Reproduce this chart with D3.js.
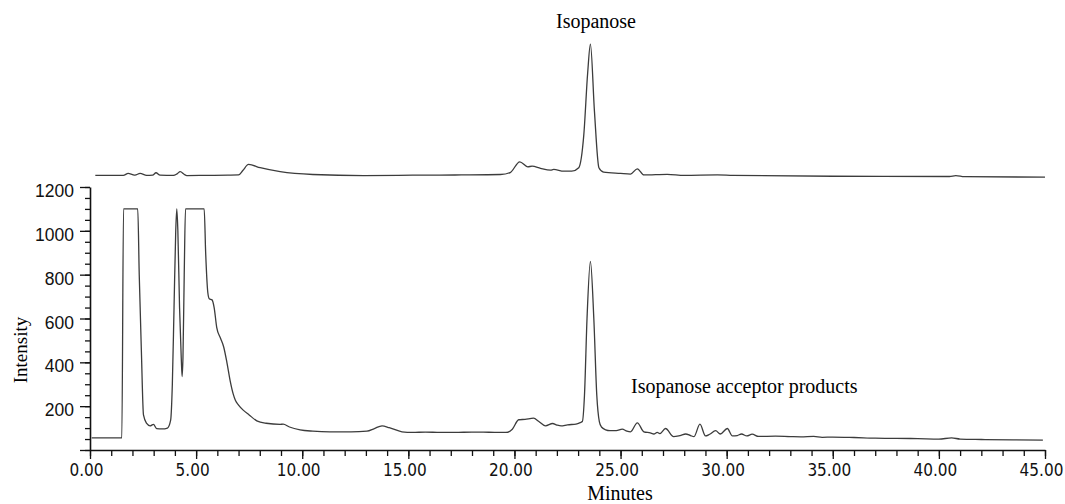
<!DOCTYPE html>
<html>
<head>
<meta charset="utf-8">
<script src="https://cdn.jsdelivr.net/npm/d3@7/dist/d3.min.js"></script>
<style>
  body { margin: 0; background: #fff; }
  svg { display: block; }
</style>
</head>
<body>
<svg id="grafico" width="1065" height="504"></svg>
<script>
// acceptor reaction trace (lower), minutes / intensity
const bottomTime = [0.08, 1.50, 1.58, 2.25, 2.32, 2.42, 2.52, 2.67, 2.83, 2.99, 3.14, 3.40, 3.65, 3.80, 3.88, 3.96, 4.04, 4.09, 4.14, 4.22, 4.30, 4.34, 4.38, 4.44, 4.50, 5.38, 5.45, 5.55, 5.62, 5.75, 5.85, 5.97, 6.15, 6.30, 6.45, 6.60, 6.75, 6.85, 7.00, 7.22, 7.50, 7.86, 8.30, 8.96, 9.10, 9.40, 9.90, 10.5, 11.3, 12.3, 13.05, 13.4, 13.76, 14.1, 14.7, 15.2, 15.8, 16.5, 17.2, 18.0, 18.8, 19.6, 19.9, 20.2, 20.5, 20.9, 21.15, 21.46, 21.8, 22.0, 22.2, 22.5, 22.9, 23.1, 23.2, 23.3, 23.42, 23.58, 23.74, 23.88, 24.0, 24.1, 24.3, 24.5, 24.8, 25.08, 25.3, 25.47, 25.79, 26.1, 26.4, 26.57, 26.73, 26.85, 27.12, 27.5, 27.8, 28.07, 28.3, 28.46, 28.74, 29.0, 29.2, 29.48, 29.7, 30.03, 30.27, 30.5, 30.7, 30.95, 31.2, 31.5, 32.3, 33.0, 33.5, 34.1, 34.5, 35.0, 36.0, 37.0, 38.0, 39.0, 40.0, 40.6, 41.0, 42.0, 43.5, 44.9];
const bottomValue = [55, 55, 1100, 1100, 800, 455, 160, 121, 110, 117, 98, 96, 100, 136, 300, 650, 1000, 1100, 1000, 650, 420, 335, 420, 800, 1100, 1100, 900, 720, 690, 685, 650, 560, 510, 470, 400, 318, 255, 227, 205, 182, 160, 133, 122, 117, 118, 105, 92, 86, 83, 83, 86, 98, 110, 102, 83, 80, 82, 80, 80, 82, 81, 80, 95, 138, 140, 145, 130, 110, 121, 114, 110, 115, 118, 125, 130, 250, 600, 860, 600, 250, 130, 105, 92, 88, 88, 95, 86, 83, 124, 83, 78, 73, 80, 75, 98, 61, 66, 73, 66, 61, 118, 64, 72, 88, 73, 98, 64, 66, 73, 64, 72, 62, 63, 61, 60, 62, 58, 59, 57, 54, 53, 52, 50, 55, 50, 48, 46, 45];

// isopanose standard (upper), drawn with an offset of 1200
const topOffset = 1200;
const topTime = [0.25, 1.57, 1.8, 2.0, 2.12, 2.36, 2.67, 2.95, 3.11, 3.3, 3.93, 4.1, 4.25, 4.45, 4.56, 5.5, 6.5, 7.0, 7.2, 7.47, 8.02, 8.96, 10.5, 12.9, 15.2, 17.5, 19.34, 19.8, 20.25, 20.63, 20.83, 21.23, 21.7, 21.85, 22.33, 22.7, 23.03, 23.27, 23.45, 23.58, 23.77, 23.98, 24.2, 25.0, 25.47, 25.79, 26.1, 27.2, 28.0, 29.56, 30.3, 35.0, 40.5, 40.8, 41.2, 45.0];
const topValue = [53, 53, 62, 57, 54, 62, 53, 54, 65, 54, 53, 60, 70, 57, 52, 53, 54, 55, 75, 103, 88, 70, 57, 52, 54, 55, 57, 66, 115, 92, 95, 85, 77, 80, 72, 72, 88, 240, 520, 652, 345, 88, 68, 62, 59, 83, 55, 58, 53, 55, 53, 49, 48, 52, 47, 45];

const xMajor = [0, 5, 10, 15, 20, 25, 30, 35, 40, 45];
const yMajor = [0, 200, 400, 600, 800, 1000, 1200];

const svg = d3.select("#grafico");
const x = d3.scaleLinear().domain([0, 45]).range([90, 1045]);
const y = d3.scaleLinear().domain([0, 1200]).range([450, 187]);

const ink = "#3c3c3c";

// x axis: minor ticks every minute, major every 5
const xMinor = svg.append("g")
  .attr("transform", `translate(0,${y(0)})`)
  .call(d3.axisBottom(x).tickValues(d3.range(0, 46, 1)).tickSize(6).tickSizeOuter(0).tickFormat(""));
xMinor.select(".domain").attr("stroke", "#111").attr("stroke-width", 1.6);
xMinor.selectAll(".tick line").attr("stroke", "#111").attr("stroke-width", 1.3);

const xAx = svg.append("g")
  .attr("transform", `translate(0,${y(0)})`)
  .call(d3.axisBottom(x).tickValues(xMajor).tickSize(9).tickSizeOuter(0).tickFormat(d => d.toFixed(2)));
xAx.select(".domain").remove();
xAx.selectAll(".tick line").attr("stroke", "#111").attr("stroke-width", 1.3);
xAx.selectAll(".tick text")
  .attr("y", 14)
  .attr("dx", -4)
  .attr("fill", "#111")
  .style("font-family", "'DejaVu Sans Condensed', 'DejaVu Sans', sans-serif")
  .style("font-size", "17px");

// y axis: minor ticks every 50, major every 200
const yMinor = svg.append("g")
  .attr("transform", `translate(${x(0)},0)`)
  .call(d3.axisLeft(y).tickValues(d3.range(0, 1201, 50)).tickSize(5).tickSizeOuter(0).tickFormat(""));
yMinor.select(".domain").attr("stroke", "#111").attr("stroke-width", 1.6);
yMinor.selectAll(".tick line").attr("stroke", "#111").attr("stroke-width", 1.3);

const yAx = svg.append("g")
  .attr("transform", `translate(${x(0)},0)`)
  .call(d3.axisLeft(y).tickValues(yMajor).tickSize(10).tickSizeOuter(0).tickFormat(d => d === 0 ? "" : d));
yAx.select(".domain").remove();
yAx.selectAll(".tick line").attr("stroke", "#111").attr("stroke-width", 1.3);
yAx.selectAll(".tick text")
  .attr("x", -16)
  .attr("dy", "0.55em")
  .attr("fill", "#111")
  .style("font-family", "'Liberation Sans', Arial, sans-serif")
  .style("font-size", "17.5px");

// traces
const line = d3.line()
  .x(d => x(d[0]))
  .y(d => y(d[1]))
  .curve(d3.curveMonotoneX);

svg.append("path")
  .datum(bottomTime.map((t, i) => [t, bottomValue[i]]))
  .attr("d", line)
  .attr("fill", "none")
  .attr("stroke", ink)
  .attr("stroke-width", 1.3);

svg.append("path")
  .datum(topTime.map((t, i) => [t, topValue[i] + topOffset]))
  .attr("d", line)
  .attr("fill", "none")
  .attr("stroke", ink)
  .attr("stroke-width", 1.3);

// labels
const serif = "'Liberation Serif', 'Times New Roman', serif";

svg.append("text")
  .attr("x", 596).attr("y", 28)
  .attr("text-anchor", "middle")
  .style("font-family", serif).style("font-size", "20px")
  .text("Isopanose");

svg.append("text")
  .attr("x", 631).attr("y", 393)
  .style("font-family", serif).style("font-size", "20px")
  .text("Isopanose acceptor products");

svg.append("text")
  .attr("x", 620).attr("y", 500)
  .attr("text-anchor", "middle")
  .style("font-family", serif).style("font-size", "20px")
  .text("Minutes");

svg.append("text")
  .attr("transform", "translate(27,350) rotate(-90)")
  .attr("text-anchor", "middle")
  .style("font-family", serif).style("font-size", "19px")
  .text("Intensity");
</script>
</body>
</html>
